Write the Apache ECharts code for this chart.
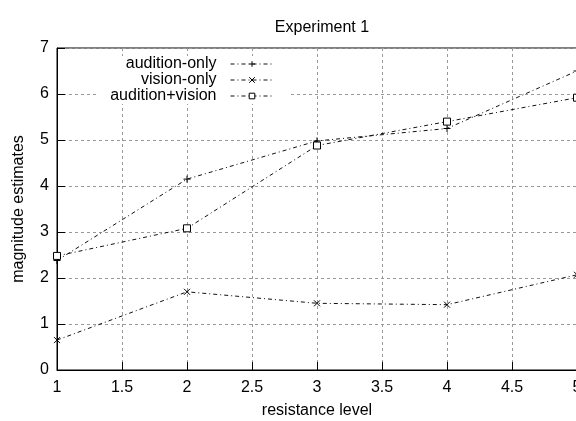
<!DOCTYPE html>
<html><head><meta charset="utf-8">
<script src="https://cdn.jsdelivr.net/npm/echarts@6/dist/echarts.min.js"></script>
<style>html,body{margin:0;padding:0;background:#fff}#c{width:576px;height:421px}</style>
</head><body><div id="c"></div>
<script>
const levels = [1, 2, 3, 4, 5];
const auditionOnly = [2.38, 4.15, 4.98, 5.25, 6.5];
const visionOnly = [0.65, 1.7, 1.45, 1.42, 2.07];
const auditionVision = [2.48, 3.08, 4.88, 5.4, 5.92];
const seriesNames = ['audition-only', 'vision-only', 'audition+vision'];
const xTickLabels = ['1', '1.5', '2', '2.5', '3', '3.5', '4', '4.5', '5'];

const F = 'Liberation Sans, Arial, Helvetica, sans-serif';
const dashDot = [4, 3, 1, 3];
const plus = 'path://M0,5L10,5M5,0L5,10';
const cross = 'path://M0,0L10,10M10,0L0,10';
const symbols = [plus, cross, 'rect'];
const fills = ['#000', '#000', '#fff'];
const symSizes = [7, 6, 7];
const legendTops = [56, 72, 88];
const legendPadLeft = [27, 42, 12];

function mk(i, data) {
  return {
    name: seriesNames[i], type: 'line', data: levels.map((x, j) => [x, data[j]]),
    symbol: symbols[i], symbolSize: symSizes[i], showSymbol: true,
    lineStyle: { color: '#111', width: 1, type: dashDot },
    itemStyle: { color: fills[i], borderColor: '#000', borderWidth: 1 },
    emphasis: { disabled: true }, animation: false, z: 3
  };
}

const chart = echarts.init(document.getElementById('c'));
chart.setOption({
  animation: false,
  backgroundColor: '#fff',
  title: { text: 'Experiment 1', left: 317, top: 15, textAlign: 'center',
    textStyle: { fontFamily: F, fontSize: 16, fontWeight: 'normal', color: '#000' } },
  legend: seriesNames.map((n, i) => ({
    data: [n], right: 287, top: legendTops[i], align: 'right', itemWidth: 43, itemHeight: 7,
    padding: [0, 15, 0, legendPadLeft[i]], backgroundColor: '#fff',
    lineStyle: { width: 1, type: dashDot, color: '#111' },
    itemStyle: { borderWidth: 1 },
    textStyle: { fontFamily: F, fontSize: 16, lineHeight: 16, color: '#000', padding: [0, 9, 0, 0] }
  })),
  grid: { left: 57, right: -1, top: 48, bottom: 51, show: true, borderColor: '#000', borderWidth: 1,
    containLabel: false, outerBoundsMode: 'none' },
  xAxis: {
    type: 'value', min: 1, max: 5, interval: 0.5,
    name: 'resistance level', nameLocation: 'middle', nameGap: 33,
    nameTextStyle: { fontFamily: F, fontSize: 16, color: '#000' },
    axisLine: { lineStyle: { color: '#000' } },
    axisTick: { inside: true, length: 8, lineStyle: { color: '#000' } },
    axisLabel: { fontFamily: F, fontSize: 16, color: '#000', margin: 10, showMaxLabel: true,
      formatter: (v) => xTickLabels[Math.round((v - 1) * 2)] },
    splitLine: { lineStyle: { color: '#999', type: [3, 3] } }
  },
  yAxis: {
    type: 'value', min: 0, max: 7, interval: 1,
    name: 'magnitude estimates', nameLocation: 'middle', nameGap: 30,
    nameTextStyle: { fontFamily: F, fontSize: 16, color: '#000' },
    axisLine: { lineStyle: { color: '#000' } },
    axisTick: { inside: true, length: 8, lineStyle: { color: '#000' } },
    axisLabel: { fontFamily: F, fontSize: 16, color: '#000', margin: 8 },
    splitLine: { lineStyle: { color: '#999', type: [3, 3] } }
  },
  series: [
    mk(0, auditionOnly),
    mk(1, visionOnly),
    mk(2, auditionVision)
  ]
});
</script></body></html>
